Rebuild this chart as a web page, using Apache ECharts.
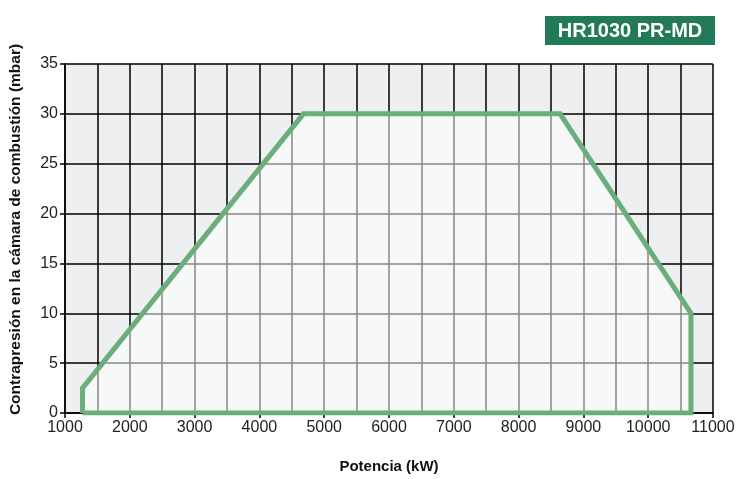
<!DOCTYPE html>
<html>
<head>
<meta charset="utf-8">
<script src="https://cdn.jsdelivr.net/npm/echarts@6/dist/echarts.min.js"></script>
<style>
  html, body { margin: 0; padding: 0; background: #fff; }
  #chart { width: 741px; height: 479px; }
</style>
</head>
<body>
<div id="chart"></div>
<script>
// working envelope (kW, mbar)
const potencia = [1270, 1270, 4680, 8640, 10660, 10660, 1270]
const contrapresion = [0, 2.5, 30, 30, 10, 0, 0]

const xTicks = [1000, 2000, 3000, 4000, 5000, 6000, 7000, 8000, 9000, 10000, 11000]
const yTicks = [0, 5, 10, 15, 20, 25, 30, 35]

const modelo = "HR1030 PR-MD"

const font = "'Liberation Sans', Arial, sans-serif"
const chart = echarts.init(document.getElementById("chart"))

chart.setOption({
    animation: false,
    grid: {
        left: 65, right: 28, top: 64, bottom: 66,
        show: true, backgroundColor: "#eeeff1", borderWidth: 0
    },
    graphic: [{
        type: "group", right: 26, top: 16,
        children: [
            {type: "rect", shape: {x: 0, y: 0, width: 170, height: 29}, style: {fill: "#237a59"}},
            {type: "text", x: 85, y: 15, style: {
                text: modelo, fill: "#fff", font: "bold 20px " + font,
                align: "center", verticalAlign: "middle"
            }}
        ]
    }],
    xAxis: {
        type: "value",
        min: xTicks[0], max: xTicks[xTicks.length - 1], interval: 1000,
        name: "Potencia (kW)", nameLocation: "middle", nameGap: 46,
        nameTextStyle: {fontFamily: font, fontWeight: "bold", fontSize: 15, color: "#111"},
        axisLine: {lineStyle: {color: "#000", width: 1.5}},
        axisTick: {length: 5, lineStyle: {color: "#000", width: 1.5}},
        axisLabel: {fontFamily: font, fontSize: 16, color: "#222", margin: 7, formatter: v => String(v)},
        splitLine: {lineStyle: {color: "#000", width: 1.5}},
        minorTick: {show: false, splitNumber: 2},
        minorSplitLine: {show: true, lineStyle: {color: "#000", width: 1.5}}
    },
    yAxis: {
        type: "value",
        min: yTicks[0], max: yTicks[yTicks.length - 1], interval: 5,
        name: "Contrapresión en la cámara de combustión (mbar)",
        nameLocation: "middle", nameGap: 41,
        nameTextStyle: {fontFamily: font, fontWeight: "bold", fontSize: 15.5, color: "#111", padding: [0, 0, 0, 18]},
        axisLine: {show: true, lineStyle: {color: "#000", width: 1.5}},
        axisTick: {show: true, length: 5, lineStyle: {color: "#000", width: 1.5}},
        axisLabel: {fontFamily: font, fontSize: 16, color: "#222", margin: 7, formatter: v => String(v)},
        splitLine: {lineStyle: {color: "#000", width: 1.5}}
    },
    series: [{
        type: "line",
        data: potencia.map((p, i) => [p, contrapresion[i]]),
        symbol: "none",
        lineStyle: {color: "#6aae7c", width: 5, join: "miter"},
        areaStyle: {color: "rgba(255,255,255,0.76)", origin: 0},
        z: 3
    }]
})
</script>
</body>
</html>
